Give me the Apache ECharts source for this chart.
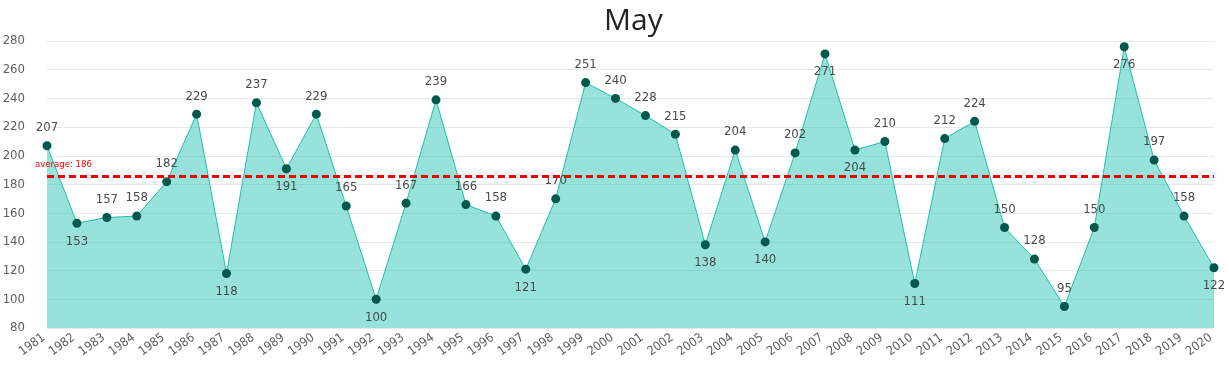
<!DOCTYPE html>
<html><head><meta charset="utf-8">
<script src="https://cdn.jsdelivr.net/npm/echarts@6/dist/echarts.min.js"></script>
<style>html,body{margin:0;padding:0;background:#fff}#c{width:1229px;height:368px}</style>
</head><body><div id="c"></div>
<script>
const years = ['1981','1982','1983','1984','1985','1986','1987','1988','1989','1990','1991','1992','1993','1994','1995','1996','1997','1998','1999','2000','2001','2002','2003','2004','2005','2006','2007','2008','2009','2010','2011','2012','2013','2014','2015','2016','2017','2018','2019','2020'];
const values = [207,153,157,158,182,229,118,237,191,229,165,100,167,239,166,158,121,170,251,240,228,215,138,204,140,202,271,204,210,111,212,224,150,128,95,150,276,197,158,122];
const labelPos = ['top','bottom','top','top','top','top','bottom','top','bottom','top','top','bottom','top','top','top','top','bottom','top','top','top','top','top','bottom','top','bottom','top','bottom','bottom','top','bottom','top','top','top','top','top','top','bottom','top','top','bottom'];
const average = 186;
const yTicks = {min: 80, max: 280, interval: 20};

const chart = echarts.init(document.getElementById('c'));
const font = '"DejaVu Sans Condensed", "DejaVu Sans", sans-serif';
chart.setOption({
  animation: false,
  title: {text: 'May', left: 599, top: 1, textStyle: {fontFamily: '"Open Sans", "DejaVu Sans", sans-serif', fontSize: 30, fontWeight: 'normal', color: '#252423'}},
  grid: {left: 47, right: 15, top: 41, bottom: 40, containLabel: false, outerBoundsMode: 'none'},
  xAxis: {
    type: 'category', data: years, boundaryGap: false,
    axisLine: {show: false}, axisTick: {show: false},
    axisLabel: {rotate: 36, interval: 0, color: '#605E5C', fontFamily: font, fontSize: 12.5, margin: 6, padding: [0, 4, 0, 0]}
  },
  yAxis: {
    type: 'value', min: yTicks.min, max: yTicks.max, interval: yTicks.interval,
    axisLine: {show: false}, axisTick: {show: false},
    axisLabel: {color: '#605E5C', fontFamily: font, fontSize: 13, margin: 22, align: 'right'},
    splitLine: {lineStyle: {color: '#E8E8E8', width: 1}}
  },
  series: [{
    type: 'line', data: values.map((v, i) => ({value: v, label: {position: labelPos[i]}})),
    symbol: 'circle', symbolSize: 9,
    itemStyle: {color: '#00594C'},
    lineStyle: {color: '#1DBFAE', width: 1},
    areaStyle: {color: '#19BEAF', opacity: 0.45, origin: 'start'},
    label: {show: true, color: '#4A4A4A', fontFamily: font, fontSize: 13, distance: 7},
    markLine: {
      silent: true, symbol: 'none',
      data: [{yAxis: average}],
      lineStyle: {color: '#EE0000', type: [7, 4], width: 3},
      label: {position: 'insideStartTop', formatter: 'average: {c}', color: '#EE0000', fontSize: 9.5, fontFamily: font, distance: [-12, 6]}
    }
  }]
});
</script></body></html>
